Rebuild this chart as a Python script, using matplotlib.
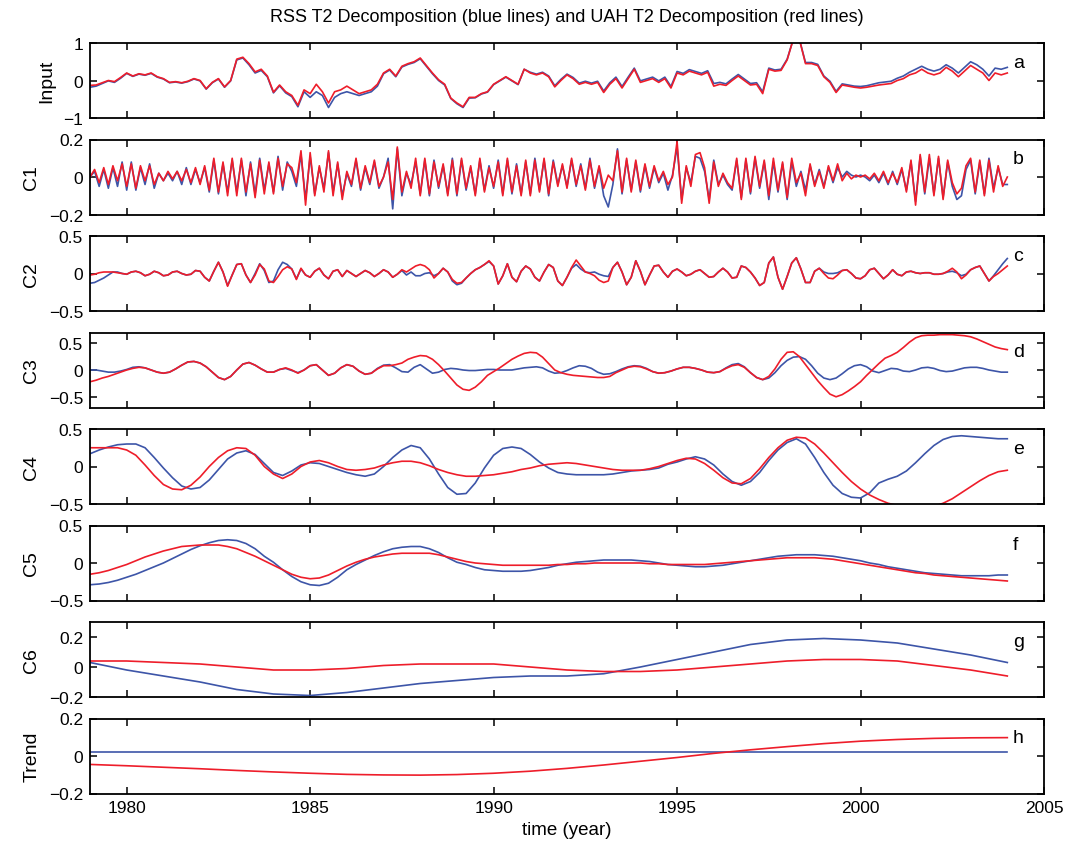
import numpy as np
import matplotlib
matplotlib.use("Agg")
import matplotlib.pyplot as plt
from matplotlib.ticker import FuncFormatter

plt.rcParams['font.family'] = ['Liberation Sans', 'DejaVu Sans']

# ---- data: RSS (blue) and UAH (red) T2 decompositions ----
# input, 6 samples per year 1979..2004
input_rss = [
    -0.18, -0.15, -0.08, -0.01, -0.05, 0.06,
    0.19, 0.11, 0.17, 0.14, 0.19, 0.09,
    0.04, -0.06, -0.04, -0.07, -0.03, 0.04,
    -0.01, -0.23, -0.06, 0.04, -0.18, -0.01,
    0.55, 0.60, 0.42, 0.20, 0.27, 0.10,
    -0.33, -0.14, -0.33, -0.43, -0.70, -0.30,
    -0.45, -0.30, -0.40, -0.72, -0.45, -0.35,
    -0.30, -0.35, -0.40, -0.35, -0.30, -0.15,
    0.18, 0.28, 0.10, 0.36, 0.43, 0.48,
    0.58, 0.38, 0.18, 0.00, -0.12, -0.48,
    -0.62, -0.72, -0.47, -0.46, -0.36, -0.31,
    -0.11, -0.01, 0.09, -0.01, -0.11, 0.30,
    0.22, 0.17, 0.22, 0.12, -0.14, 0.03,
    0.17, 0.08, -0.07, -0.02, -0.07, -0.02,
    -0.28, -0.06, 0.09, -0.16, 0.09, 0.33,
    -0.01, 0.04, 0.09, -0.01, 0.09, -0.16,
    0.24, 0.19, 0.29, 0.24, 0.19, 0.26,
    -0.08, -0.05, -0.09, 0.04, 0.16, 0.04,
    -0.08, -0.06, -0.30, 0.33, 0.28, 0.30,
    0.57, 1.10, 1.10, 0.48, 0.48, 0.43,
    0.12, -0.02, -0.29, -0.09, -0.12, -0.15,
    -0.16, -0.14, -0.10, -0.06, -0.04, -0.02,
    0.06, 0.12, 0.22, 0.30, 0.38, 0.30,
    0.25, 0.30, 0.42, 0.33, 0.20, 0.35,
    0.50, 0.42, 0.30, 0.12, 0.33, 0.30,
    0.35,
]
input_uah = [
    -0.13, -0.12, -0.06, 0.00, -0.03, 0.08,
    0.20, 0.12, 0.18, 0.15, 0.20, 0.10,
    0.05, -0.05, -0.03, -0.06, -0.02, 0.05,
    0.00, -0.22, -0.05, 0.05, -0.17, 0.00,
    0.57, 0.62, 0.45, 0.23, 0.30, 0.12,
    -0.31, -0.12, -0.30, -0.40, -0.66, -0.25,
    -0.35, -0.10, -0.30, -0.60, -0.30, -0.25,
    -0.15, -0.25, -0.35, -0.30, -0.25, -0.10,
    0.20, 0.30, 0.12, 0.38, 0.45, 0.50,
    0.60, 0.40, 0.20, 0.02, -0.10, -0.47,
    -0.60, -0.70, -0.45, -0.45, -0.35, -0.30,
    -0.10, 0.00, 0.10, 0.00, -0.10, 0.30,
    0.20, 0.15, 0.20, 0.10, -0.17, 0.00,
    0.15, 0.05, -0.10, -0.05, -0.10, -0.05,
    -0.32, -0.10, 0.05, -0.20, 0.05, 0.30,
    -0.05, 0.00, 0.05, -0.05, 0.05, -0.20,
    0.20, 0.15, 0.25, 0.20, 0.15, 0.22,
    -0.15, -0.10, -0.13, 0.00, 0.12, 0.00,
    -0.12, -0.10, -0.35, 0.30, 0.25, 0.27,
    0.55, 1.10, 1.10, 0.45, 0.45, 0.40,
    0.10, -0.05, -0.32, -0.12, -0.15, -0.18,
    -0.20, -0.18, -0.15, -0.12, -0.10, -0.08,
    0.00, 0.05, 0.15, 0.20, 0.30, 0.20,
    0.15, 0.20, 0.35, 0.25, 0.10, 0.25,
    0.40, 0.30, 0.20, 0.00, 0.20, 0.15,
    0.20,
]

# C1, 8 samples per year
c1_rss = [
    0.00, 0.03, -0.05, 0.04, -0.06, 0.05, -0.05, 0.08,
    -0.07, 0.08, -0.07, 0.05, -0.04, 0.07, -0.06, 0.02,
    -0.02, 0.02, -0.02, 0.03, -0.04, 0.05, -0.04, 0.04,
    -0.03, 0.05, -0.08, 0.09, -0.09, 0.07, -0.08, 0.09,
    -0.08, 0.09, -0.10, 0.08, -0.09, 0.10, -0.07, 0.07,
    -0.08, 0.11, -0.07, 0.08, 0.03, -0.05, 0.12, -0.12,
    0.11, -0.09, 0.05, -0.06, 0.13, -0.08, 0.07, -0.10,
    0.02, -0.05, 0.09, -0.07, 0.05, -0.04, 0.08, -0.06,
    0.00, 0.10, -0.17, 0.15, -0.10, 0.02, -0.04, 0.08,
    -0.09, 0.09, -0.10, 0.09, -0.06, 0.06, -0.09, 0.10,
    -0.10, 0.09, -0.07, 0.05, -0.09, 0.09, -0.07, 0.06,
    -0.06, 0.09, -0.09, 0.09, -0.09, 0.07, -0.09, 0.08,
    -0.09, 0.10, -0.07, 0.09, -0.10, 0.09, -0.04, 0.06,
    -0.05, 0.09, -0.05, 0.07, -0.06, 0.10, -0.06, 0.05,
    -0.10, -0.16, -0.04, 0.15, -0.09, 0.09, -0.07, 0.08,
    -0.08, 0.06, -0.06, 0.05, -0.03, 0.02, -0.07, 0.01,
    0.16, -0.12, 0.05, -0.03, 0.11, 0.10, 0.03, -0.12,
    0.09, -0.04, 0.01, -0.04, -0.07, 0.09, -0.11, 0.09,
    -0.09, 0.10, -0.06, 0.08, -0.12, 0.08, -0.08, 0.07,
    -0.12, 0.08, -0.05, 0.03, -0.07, 0.06, -0.04, 0.04,
    -0.05, 0.05, -0.03, 0.05, 0.00, 0.03, 0.01, 0.00,
    0.01, 0.00, -0.02, 0.01, -0.03, 0.02, -0.04, 0.03,
    -0.04, 0.04, -0.07, 0.08, -0.13, 0.11, -0.09, 0.10,
    -0.09, 0.10, -0.11, 0.08, -0.05, -0.12, -0.10, 0.04,
    0.09, -0.09, 0.08, -0.09, 0.10, -0.06, 0.05, -0.04,
    -0.04,
]
c1_uah = [
    0.00, 0.04, -0.03, 0.05, -0.04, 0.06, -0.02, 0.07,
    -0.05, 0.07, -0.06, 0.06, -0.02, 0.06, -0.04, 0.02,
    -0.02, 0.03, -0.01, 0.03, -0.02, 0.04, -0.03, 0.05,
    -0.04, 0.06, -0.07, 0.10, -0.08, 0.08, -0.10, 0.10,
    -0.10, 0.10, -0.08, 0.07, -0.11, 0.09, -0.09, 0.08,
    -0.09, 0.10, -0.05, 0.07, 0.05, -0.03, 0.14, -0.15,
    0.13, -0.10, 0.06, -0.08, 0.14, -0.10, 0.08, -0.12,
    0.03, -0.04, 0.10, -0.06, 0.06, -0.03, 0.09, -0.05,
    0.00, 0.08, -0.12, 0.16, -0.08, 0.03, -0.06, 0.10,
    -0.10, 0.10, -0.09, 0.08, -0.05, 0.07, -0.10, 0.09,
    -0.09, 0.10, -0.06, 0.06, -0.10, 0.10, -0.08, 0.05,
    -0.05, 0.08, -0.10, 0.10, -0.08, 0.06, -0.10, 0.09,
    -0.10, 0.09, -0.08, 0.10, -0.09, 0.08, -0.05, 0.07,
    -0.06, 0.10, -0.04, 0.06, -0.07, 0.09, -0.05, 0.06,
    -0.06, 0.01, -0.02, 0.14, -0.08, 0.10, -0.08, 0.09,
    -0.07, 0.07, -0.05, 0.06, -0.02, 0.03, -0.04, 0.00,
    0.19, -0.14, 0.06, -0.05, 0.12, 0.13, 0.05, -0.14,
    0.08, -0.05, 0.02, -0.03, -0.06, 0.10, -0.12, 0.10,
    -0.08, 0.11, -0.05, 0.09, -0.10, 0.10, -0.07, 0.08,
    -0.11, 0.10, -0.03, 0.02, -0.10, 0.07, -0.05, 0.03,
    -0.06, 0.06, -0.02, 0.07, -0.02, 0.02, -0.01, 0.01,
    0.00, 0.01, -0.01, 0.02, -0.02, 0.03, -0.03, 0.02,
    -0.03, 0.05, -0.08, 0.09, -0.15, 0.12, -0.08, 0.12,
    -0.10, 0.11, -0.12, 0.09, -0.03, -0.09, -0.06, 0.06,
    0.10, -0.08, 0.09, -0.10, 0.09, -0.08, 0.06, -0.05,
    0.00,
]

# C2, 8 samples per year
c2_rss = [
    -0.13, -0.12, -0.09, -0.06, -0.02, 0.02, 0.02, 0.00,
    -0.01, 0.02, 0.03, 0.01, -0.03, -0.01, 0.03, 0.01,
    -0.03, -0.02, 0.02, 0.03, 0.00, -0.02, -0.01, 0.04,
    0.03, -0.05, -0.10, 0.03, 0.15, 0.02, -0.16, -0.02,
    0.12, 0.13, -0.02, -0.12, 0.00, 0.13, 0.04, -0.12,
    -0.10, 0.05, 0.15, 0.12, 0.06, -0.07, 0.06, -0.02,
    -0.05, 0.03, 0.07, -0.02, -0.07, 0.03, 0.05, -0.04,
    0.04, 0.00, -0.04, 0.00, 0.04, 0.01, -0.04, 0.00,
    0.05, 0.02, -0.05, -0.01, 0.04, -0.02, 0.02, -0.03,
    -0.03, 0.00, 0.01, -0.03, 0.00, 0.07, 0.02, -0.10,
    -0.15, -0.13, -0.06, 0.00, 0.05, 0.08, 0.12, 0.16,
    0.10, -0.14, -0.03, 0.13, -0.05, -0.11, 0.03, 0.10,
    0.06, -0.05, -0.10, 0.02, 0.12, 0.08, -0.10, -0.16,
    -0.05, 0.07, 0.12, 0.06, 0.02, 0.01, 0.02, -0.01,
    -0.03, -0.04, 0.08, 0.15, 0.02, -0.15, -0.05, 0.17,
    0.03, -0.15, -0.02, 0.10, 0.11, 0.02, -0.05, 0.03,
    0.06, 0.02, -0.03, -0.01, 0.03, 0.05, 0.00, -0.05,
    -0.04, 0.02, 0.07, 0.02, -0.06, -0.05, 0.10, 0.08,
    0.02, -0.06, -0.16, -0.12, 0.14, 0.22, -0.05, -0.21,
    -0.04, 0.14, 0.21, 0.06, -0.12, -0.12, 0.03, 0.07,
    0.02, 0.00, 0.00, 0.01, 0.04, 0.05, 0.00, -0.06,
    -0.07, -0.03, 0.05, 0.07, 0.00, -0.07, -0.02, 0.05,
    -0.01, -0.03, 0.02, 0.03, 0.01, 0.00, 0.01, 0.01,
    -0.01, -0.01, 0.00, 0.02, 0.03, 0.01, -0.03, -0.01,
    0.05, 0.08, 0.10, 0.00, -0.10, -0.03, 0.05, 0.13,
    0.20,
]
c2_uah = [
    -0.02, -0.01, 0.01, 0.02, 0.02, 0.02, 0.01, 0.00,
    -0.01, 0.02, 0.03, 0.01, -0.03, -0.01, 0.03, 0.01,
    -0.03, -0.02, 0.02, 0.03, 0.00, -0.02, -0.01, 0.04,
    0.03, -0.05, -0.10, 0.03, 0.15, 0.02, -0.17, -0.02,
    0.12, 0.13, -0.02, -0.12, -0.02, 0.12, 0.06, -0.10,
    -0.12, -0.04, 0.05, 0.09, 0.06, -0.08, 0.07, -0.02,
    -0.05, 0.03, 0.07, -0.02, -0.07, 0.03, 0.05, -0.04,
    0.04, 0.00, -0.04, 0.00, 0.04, 0.01, -0.04, 0.00,
    0.05, 0.02, -0.05, -0.01, 0.05, 0.02, 0.06, 0.10,
    0.12, 0.10, 0.05, -0.06, 0.00, 0.07, 0.02, -0.08,
    -0.13, -0.12, -0.06, 0.00, 0.05, 0.08, 0.12, 0.17,
    0.10, -0.14, -0.03, 0.13, -0.05, -0.11, 0.03, 0.10,
    0.06, -0.05, -0.10, 0.02, 0.12, 0.08, -0.10, -0.16,
    -0.05, 0.08, 0.18, 0.10, 0.02, 0.00, -0.03, -0.09,
    -0.12, -0.10, 0.08, 0.15, 0.02, -0.15, -0.05, 0.17,
    0.03, -0.15, -0.02, 0.10, 0.11, 0.02, -0.05, 0.03,
    0.06, 0.02, -0.03, -0.01, 0.03, 0.05, 0.00, -0.05,
    -0.04, 0.02, 0.07, 0.02, -0.06, -0.05, 0.10, 0.08,
    0.02, -0.06, -0.16, -0.12, 0.14, 0.22, -0.05, -0.21,
    -0.04, 0.14, 0.21, 0.06, -0.12, -0.12, 0.03, 0.07,
    0.00, -0.06, -0.07, -0.02, 0.04, 0.05, 0.00, -0.06,
    -0.07, -0.03, 0.05, 0.07, 0.00, -0.07, -0.02, 0.05,
    -0.01, -0.03, 0.02, 0.03, 0.01, 0.00, 0.01, 0.01,
    -0.01, -0.01, 0.00, 0.03, 0.07, 0.02, -0.07, -0.02,
    0.05, 0.08, 0.10, 0.00, -0.10, -0.04, 0.00, 0.05,
    0.10,
]

# C3, 6 samples per year
c3_rss = [
    0.00, 0.00, -0.02, -0.04, -0.04, -0.02,
    0.01, 0.05, 0.06, 0.04, 0.00, -0.04,
    -0.06, -0.04, 0.02, 0.09, 0.15, 0.16,
    0.13, 0.06, -0.04, -0.14, -0.18, -0.12,
    0.00, 0.11, 0.14, 0.09, 0.02, -0.04,
    -0.04, 0.01, 0.03, -0.01, -0.05, 0.00,
    0.08, 0.10, 0.00, -0.10, -0.06, 0.04,
    0.10, 0.07, -0.02, -0.08, -0.06, 0.03,
    0.09, 0.10, 0.04, -0.03, -0.04, 0.05,
    0.10, 0.02, -0.06, -0.04, 0.01, 0.03,
    0.02, 0.00, -0.01, -0.01, 0.00, 0.01,
    0.01, 0.00, 0.00, 0.00, 0.02, 0.04,
    0.05, 0.06, 0.04, -0.02, -0.06, -0.05,
    -0.01, 0.04, 0.08, 0.07, 0.03, -0.04,
    -0.08, -0.07, -0.03, 0.02, 0.06, 0.08,
    0.07, 0.03, -0.03, -0.06, -0.05, -0.02,
    0.02, 0.05, 0.05, 0.03, 0.00, -0.04,
    -0.05, -0.03, 0.04, 0.10, 0.12, 0.06,
    -0.05, -0.14, -0.18, -0.15, -0.05, 0.08,
    0.18, 0.24, 0.25, 0.20, 0.08, -0.06,
    -0.15, -0.18, -0.15, -0.07, 0.02, 0.08,
    0.10, 0.06, -0.02, -0.05, -0.01, 0.03,
    0.02, -0.02, -0.03, 0.00, 0.04, 0.05,
    0.03, -0.01, -0.03, -0.02, 0.01, 0.04,
    0.05, 0.05, 0.03, 0.00, -0.02, -0.04,
    -0.04,
]
c3_uah = [
    -0.22, -0.19, -0.15, -0.12, -0.08, -0.04,
    0.00, 0.03, 0.05, 0.04, 0.00, -0.04,
    -0.06, -0.04, 0.02, 0.09, 0.15, 0.16,
    0.13, 0.06, -0.04, -0.14, -0.18, -0.12,
    0.00, 0.11, 0.14, 0.09, 0.02, -0.04,
    -0.04, 0.01, 0.04, 0.00, -0.06, 0.00,
    0.08, 0.10, 0.00, -0.10, -0.06, 0.04,
    0.10, 0.07, -0.02, -0.08, -0.06, 0.02,
    0.08, 0.08, 0.10, 0.13, 0.20, 0.24,
    0.27, 0.26, 0.20, 0.10, -0.02, -0.15,
    -0.28, -0.36, -0.38, -0.32, -0.22, -0.10,
    -0.03, 0.04, 0.12, 0.20, 0.26, 0.31,
    0.33, 0.32, 0.24, 0.12, 0.00, -0.05,
    -0.08, -0.10, -0.11, -0.12, -0.13, -0.14,
    -0.14, -0.12, -0.05, 0.00, 0.05, 0.07,
    0.06, 0.02, -0.03, -0.06, -0.05, -0.02,
    0.02, 0.05, 0.05, 0.03, 0.00, -0.04,
    -0.05, -0.03, 0.03, 0.08, 0.10, 0.05,
    -0.05, -0.14, -0.18, -0.12, 0.02, 0.20,
    0.33, 0.34, 0.25, 0.10, -0.05, -0.20,
    -0.33, -0.45, -0.50, -0.46, -0.39, -0.31,
    -0.22, -0.10, 0.01, 0.12, 0.22, 0.27,
    0.33, 0.42, 0.52, 0.60, 0.64, 0.65,
    0.65, 0.66, 0.66, 0.66, 0.65, 0.64,
    0.62, 0.58, 0.53, 0.48, 0.43, 0.40,
    0.38,
]

# C4, 4 samples per year
c4_rss = [
    0.17, 0.22, 0.26, 0.29,
    0.30, 0.30, 0.25, 0.12,
    -0.02, -0.15, -0.26, -0.30,
    -0.28, -0.18, -0.04, 0.10,
    0.18, 0.21, 0.16, 0.04,
    -0.08, -0.12, -0.06, 0.02,
    0.05, 0.04, 0.00, -0.04,
    -0.08, -0.11, -0.13, -0.10,
    0.00, 0.12, 0.22, 0.28,
    0.25, 0.10, -0.10, -0.28,
    -0.37, -0.36, -0.22, -0.02,
    0.15, 0.24, 0.26, 0.24,
    0.16, 0.06, -0.02, -0.08,
    -0.10, -0.11, -0.11, -0.11,
    -0.11, -0.10, -0.08, -0.06,
    -0.05, -0.04, -0.02, 0.03,
    0.06, 0.10, 0.13, 0.10,
    0.02, -0.10, -0.20, -0.25,
    -0.20, -0.08, 0.08, 0.22,
    0.32, 0.37, 0.30, 0.12,
    -0.08, -0.25, -0.36, -0.41,
    -0.42, -0.35, -0.22, -0.17,
    -0.13, -0.06, 0.05, 0.17,
    0.28, 0.36, 0.40, 0.41,
    0.40, 0.39, 0.38, 0.37,
    0.37,
]
c4_uah = [
    0.25, 0.25, 0.25, 0.25,
    0.22, 0.15, 0.02, -0.12,
    -0.24, -0.30, -0.31, -0.25,
    -0.14, 0.00, 0.12, 0.21,
    0.25, 0.24, 0.15, 0.00,
    -0.10, -0.16, -0.10, 0.00,
    0.06, 0.08, 0.05, 0.00,
    -0.04, -0.05, -0.04, -0.02,
    0.02, 0.05, 0.07, 0.07,
    0.05, 0.01, -0.04, -0.08,
    -0.11, -0.13, -0.13, -0.12,
    -0.11, -0.09, -0.07, -0.04,
    -0.02, 0.01, 0.03, 0.04,
    0.05, 0.04, 0.02, 0.00,
    -0.02, -0.04, -0.05, -0.05,
    -0.05, -0.03, 0.00, 0.04,
    0.08, 0.11, 0.10, 0.04,
    -0.05, -0.15, -0.22, -0.23,
    -0.16, -0.03, 0.12, 0.25,
    0.35, 0.39, 0.38, 0.30,
    0.18, 0.05, -0.08, -0.20,
    -0.30, -0.38, -0.44, -0.49,
    -0.52, -0.54, -0.55, -0.55,
    -0.53, -0.49, -0.43, -0.35,
    -0.27, -0.19, -0.12, -0.07,
    -0.05,
]

# C5, 4 samples per year
c5_rss = [
    -0.29, -0.28, -0.26, -0.23,
    -0.19, -0.15, -0.10, -0.05,
    0.00, 0.06, 0.12, 0.18,
    0.23, 0.27, 0.30, 0.31,
    0.30, 0.26, 0.19, 0.09,
    0.01, -0.09, -0.18, -0.25,
    -0.29, -0.30, -0.27, -0.19,
    -0.09, -0.02, 0.04, 0.10,
    0.15, 0.19, 0.21, 0.22,
    0.22, 0.19, 0.14, 0.07,
    0.01, -0.02, -0.06, -0.09,
    -0.10, -0.11, -0.11, -0.11,
    -0.10, -0.08, -0.06, -0.03,
    -0.01, 0.01, 0.02, 0.03,
    0.04, 0.04, 0.04, 0.04,
    0.03, 0.02, 0.00, -0.02,
    -0.03, -0.04, -0.05, -0.05,
    -0.04, -0.03, -0.01, 0.01,
    0.03, 0.05, 0.07, 0.09,
    0.10, 0.11, 0.11, 0.11,
    0.10, 0.09, 0.07, 0.05,
    0.03, 0.00, -0.02, -0.05,
    -0.07, -0.09, -0.11, -0.13,
    -0.14, -0.15, -0.16, -0.17,
    -0.17, -0.17, -0.17, -0.16,
    -0.16,
]
c5_uah = [
    -0.15, -0.13, -0.10, -0.06,
    -0.02, 0.03, 0.08, 0.12,
    0.16, 0.19, 0.22, 0.23,
    0.24, 0.24, 0.24, 0.22,
    0.19, 0.14, 0.09, 0.03,
    -0.03, -0.09, -0.15, -0.19,
    -0.21, -0.20, -0.16, -0.10,
    -0.04, 0.01, 0.05, 0.08,
    0.10, 0.12, 0.13, 0.13,
    0.13, 0.13, 0.11, 0.08,
    0.05, 0.02, 0.00, -0.01,
    -0.02, -0.03, -0.03, -0.03,
    -0.03, -0.03, -0.03, -0.02,
    -0.02, -0.01, -0.01, 0.00,
    0.00, 0.00, 0.00, 0.00,
    0.00, -0.01, -0.01, -0.02,
    -0.02, -0.02, -0.02, -0.02,
    -0.01, 0.00, 0.01, 0.02,
    0.03, 0.04, 0.05, 0.06,
    0.07, 0.07, 0.07, 0.07,
    0.06, 0.05, 0.03, 0.01,
    -0.01, -0.03, -0.05, -0.07,
    -0.09, -0.11, -0.13, -0.14,
    -0.16, -0.17, -0.18, -0.19,
    -0.20, -0.21, -0.22, -0.23,
    -0.24,
]

# C6 and trend, 1 sample per year
c6_rss = [0.03, -0.02, -0.06, -0.10, -0.15, -0.18, -0.19, -0.17, -0.14,
          -0.11, -0.09, -0.07, -0.06, -0.06, -0.045, 0.00, 0.05, 0.10,
          0.15, 0.18, 0.19, 0.18, 0.16, 0.12, 0.08, 0.03]
c6_uah = [0.04, 0.04, 0.03, 0.02, 0.00, -0.02, -0.02, -0.01, 0.01,
          0.02, 0.02, 0.02, 0.00, -0.02, -0.03, -0.03, -0.02, 0.00,
          0.02, 0.04, 0.05, 0.05, 0.04, 0.01, -0.02, -0.06]
trend_rss = [0.02, 0.02, 0.02, 0.02, 0.02, 0.02, 0.02, 0.02, 0.02,
             0.02, 0.02, 0.02, 0.02, 0.02, 0.02, 0.02, 0.02, 0.02,
             0.02, 0.02, 0.02, 0.02, 0.02, 0.02, 0.02, 0.02]
trend_uah = [-0.045, -0.052, -0.060, -0.068, -0.077, -0.085, -0.092, -0.098,
             -0.101, -0.102, -0.099, -0.092, -0.081, -0.066, -0.048, -0.028,
             -0.008, 0.014, 0.033, 0.050, 0.066, 0.079, 0.088, 0.094,
             0.097, 0.098]

ylabels = ['Input', 'C1', 'C2', 'C3', 'C4', 'C5', 'C6', 'Trend']
letters = ['a', 'b', 'c', 'd', 'e', 'f', 'g', 'h']
ylims = [(-1, 1), (-0.2, 0.2), (-0.5, 0.5), (-0.7, 0.7),
         (-0.5, 0.5), (-0.5, 0.5), (-0.2, 0.3), (-0.2, 0.2)]
yticks = [[-1, 0, 1], [-0.2, 0, 0.2], [-0.5, 0, 0.5], [-0.5, 0, 0.5],
          [-0.5, 0, 0.5], [-0.5, 0, 0.5], [-0.2, 0, 0.2], [-0.2, 0, 0.2]]
xticks = [1980, 1985, 1990, 1995, 2000, 2005]

series = [(input_rss, input_uah), (c1_rss, c1_uah), (c2_rss, c2_uah),
          (c3_rss, c3_uah), (c4_rss, c4_uah), (c5_rss, c5_uah),
          (c6_rss, c6_uah), (trend_rss, trend_uah)]

BLUE = '#3d55a8'
RED = '#ee1d2a'

fig = plt.figure(figsize=(10.7, 8.54), dpi=100)
W, H = 1070.0, 854.0
left, right = 90, 1044
top0, ph, step = 44, 75, 96.5

fmt = FuncFormatter(lambda v, p: ('%g' % v).replace('-', '\u2212'))

for i, (rss, uah) in enumerate(series):
    top = top0 + i * step
    ax = fig.add_axes([left / W, 1 - (top + ph) / H, (right - left) / W, ph / H])
    t = np.linspace(1979, 2004, len(rss))
    ax.plot(t, rss, color=BLUE, lw=1.2)
    ax.plot(t, uah, color=RED, lw=1.2)
    ax.set_xlim(1979, 2005)
    ax.set_ylim(*ylims[i])
    ax.set_yticks(yticks[i])
    ax.yaxis.set_major_formatter(fmt)
    ax.set_xticks(xticks)
    ax.tick_params(direction='in', top=True, right=True, length=5, width=1.1,
                   labelsize=12.5, pad=5)
    for sp in ax.spines.values():
        sp.set_linewidth(1.3)
    if i < len(series) - 1:
        ax.set_xticklabels([])
    else:
        ax.set_xlabel('time (year)', fontsize=13.5, labelpad=4)
    ax.set_ylabel(ylabels[i], fontsize=14, labelpad=6)
    ax.text(0.9675, 0.74, letters[i], transform=ax.transAxes,
            fontsize=14, va='center', ha='left')

fig.text((left + right) / 2 / W, 1 - 18 / H,
         'RSS T2 Decomposition (blue lines) and UAH T2 Decomposition (red lines)',
         ha='center', va='center', fontsize=13)

fig.savefig('out.png', dpi=100)
